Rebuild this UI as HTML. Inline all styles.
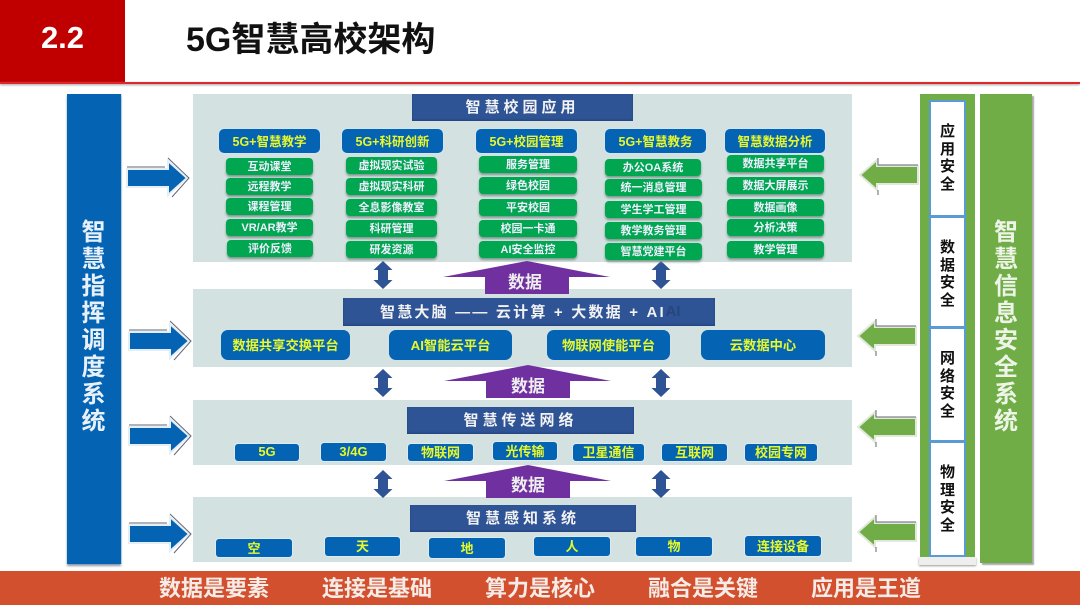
<!DOCTYPE html>
<html lang="zh"><head><meta charset="utf-8"><title>5G智慧高校架构</title>
<style>
html,body{margin:0;padding:0;background:#fff}
#p{position:relative;width:1080px;height:605px;overflow:hidden;background:#fff;font-family:"Liberation Sans","Noto Sans CJK SC",sans-serif;font-weight:700;filter:blur(.35px)}
#p div{position:absolute;box-sizing:border-box;display:flex;align-items:center;justify-content:center;white-space:nowrap}
#p .panel{background:#d3e1e1;left:193px;width:659px}
#p .h{background:#2f5496;color:#f2f2f2;font-size:15px;letter-spacing:4px;padding-bottom:2px;box-shadow:inset 0 -1px 2px #23407a}
#p .c{background:#0563b3;color:#e6f82b;font-size:12.5px;border-radius:5px;box-shadow:0 0 0 1px #cfe6f5;height:24px;width:101px;top:129px;padding-bottom:2px}
#p .g{background:#00a650;color:#eef;font-size:11px;border-radius:4px;height:17px;padding-bottom:2px;box-shadow:0 2px 2px #7f9a8e}
#p .b{background:#0563b3;color:#e6f82b;font-size:13.3px;border-radius:7px;height:30px;top:330px;padding-bottom:2px}
#p .s{background:#0563b3;color:#e6f82b;font-size:13px;border-radius:3px;padding-bottom:2px;box-shadow:0 0 0 1px #dcebf2}
#p .v{display:block;text-align:center;white-space:normal}
#p .sec{background:#fff;border:2px solid #5b9bd5;left:929px;width:37px}
svg{position:absolute;left:0;top:0}
</style></head><body><div id="p">
<div style="left:0;top:0;width:125px;height:82px;background:#c00000;color:#fff;font-size:31px;padding-bottom:7px">2.2</div>
<div style="left:0;top:82px;width:1080px;height:2px;background:#e0262b;box-shadow:0 1px 2px #999"></div>
<div style="left:186px;top:11px;height:50px;color:#111;font-size:34px;justify-content:flex-start">5G智慧高校架构</div>

<div class="panel" style="top:94px;height:168px"></div>
<div class="panel" style="top:289px;height:78px"></div>
<div class="panel" style="top:400px;height:65px"></div>
<div class="panel" style="top:497px;height:65px"></div>

<div style="left:67px;top:94px;width:54px;height:470px;background:#0563b3;box-shadow:0 2px 2px #8a9aa8,1px 0 0 #cfe3f3"></div>
<div class="v" style="left:67px;top:218.5px;width:53px;color:#e8f1fa;font-size:24px;line-height:27px">智<br>慧<br>指<br>挥<br>调<br>度<br>系<br>统</div>

<div style="left:920px;top:94px;width:55px;height:463px;background:#70ad47"></div>
<div style="left:919px;top:557px;width:57px;height:8px;background:#eee;box-shadow:0 1px 2px #999"></div>
<div class="sec" style="top:100px;height:117px"></div>
<div class="sec" style="top:216px;height:112px"></div>
<div class="sec" style="top:327px;height:115px"></div>
<div class="sec" style="top:441px;height:116px"></div>
<div class="v" style="left:929px;top:123px;width:37px;color:#111;font-size:15px;line-height:17.5px">应<br>用<br>安<br>全</div>
<div class="v" style="left:929px;top:239px;width:37px;color:#111;font-size:15px;line-height:17.5px">数<br>据<br>安<br>全</div>
<div class="v" style="left:929px;top:350px;width:37px;color:#111;font-size:15px;line-height:17.5px">网<br>络<br>安<br>全</div>
<div class="v" style="left:929px;top:464px;width:37px;color:#111;font-size:15px;line-height:17.5px">物<br>理<br>安<br>全</div>
<div style="left:980px;top:94px;width:52px;height:469px;background:#70ad47;box-shadow:2px 2px 1px #a9a9a9"></div>
<div class="v" style="left:980px;top:218.5px;width:52px;color:#eef5e8;font-size:24px;line-height:27px">智<br>慧<br>信<br>息<br>安<br>全<br>系<br>统</div>

<svg width="1080" height="605" viewBox="0 0 1080 605">
<defs>
<g id="ra"><path d="M127-9H168V-17L187 0 168 17V9H127Z" fill="#0563b3" stroke="#e4eef5" stroke-width="2"/><path d="M127-11H165M168-20L189 0 172 19" fill="none" stroke="#667" stroke-width="1"/></g>
<g id="ga"><path d="M918-9H877V-15L860 0 877 15V9H918Z" fill="#70ad47" stroke="#e2e8dc" stroke-width="2"/><path d="M878-17V-10H918M878 15V20" fill="none" stroke="#667" stroke-width="1"/></g>
<g id="da"><path d="M0-14L9.5-5H5V5H9.5L0 14-9.5 5H-5V-5H-9.5Z" fill="#2f5496"/></g>
<g id="pu"><path d="M443 16L527 0 610 16H569V33H485V16Z" fill="#7030a0"/></g>
</defs>
<use href="#ra" y="178"/><use href="#ra" x="2" y="341"/><use href="#ra" x="2" y="436"/><use href="#ra" x="2" y="534"/>
<use href="#ga" y="175"/><use href="#ga" x="-2" y="336"/><use href="#ga" x="-2" y="427"/><use href="#ga" x="-2" y="532"/>
<use href="#da" x="383" y="275"/><use href="#da" x="661" y="275"/>
<use href="#da" x="383" y="383"/><use href="#da" x="661" y="383"/>
<use href="#da" x="383" y="484"/><use href="#da" x="661" y="484"/>
<use href="#pu" y="261"/><use href="#pu" x="1" y="365"/><use href="#pu" x="1" y="465"/>
</svg>
<div style="left:483px;top:268px;width:84px;height:24px;color:#eee;font-size:17px">数据</div>
<div style="left:486px;top:372px;width:84px;height:24px;color:#eee;font-size:17px">数据</div>
<div style="left:486px;top:471px;width:84px;height:24px;color:#eee;font-size:17px">数据</div>

<div style="left:664px;top:301px;width:18px;height:20px;color:#27457f;font-size:15px;z-index:2">AI</div>
<div class="h" style="left:412px;top:94px;width:221px;height:27px">智慧校园应用</div>
<div class="h" style="left:343px;top:298px;width:372px;height:28px;letter-spacing:2.2px;justify-content:flex-start;padding-left:37px">智慧大脑 —— 云计算 + 大数据 + AI</div>
<div class="h" style="left:407px;top:407px;width:227px;height:27px">智慧传送网络</div>
<div class="h" style="left:410px;top:505px;width:226px;height:27px">智慧感知系统</div>

<div class="c" style="left:219px">5G+智慧教学</div>
<div class="c" style="left:342px">5G+科研创新</div>
<div class="c" style="left:476px">5G+校园管理</div>
<div class="c" style="left:605px">5G+智慧教务</div>
<div class="c" style="left:725px;width:100px">智慧数据分析</div>

<div class="g" style="left:226px;top:158px;width:87px">互动课堂</div>
<div class="g" style="left:226px;top:178px;width:87px">远程教学</div>
<div class="g" style="left:226px;top:198px;width:87px">课程管理</div>
<div class="g" style="left:226px;top:219px;width:87px">VR/AR教学</div>
<div class="g" style="left:227px;top:240px;width:86px">评价反馈</div>

<div class="g" style="left:346px;top:157px;width:91px">虚拟现实试验</div>
<div class="g" style="left:346px;top:178px;width:91px">虚拟现实科研</div>
<div class="g" style="left:346px;top:199px;width:91px">全息影像教室</div>
<div class="g" style="left:346px;top:220px;width:91px">科研管理</div>
<div class="g" style="left:346px;top:241px;width:91px">研发资源</div>

<div class="g" style="left:479px;top:156px;width:98px">服务管理</div>
<div class="g" style="left:479px;top:177px;width:98px">绿色校园</div>
<div class="g" style="left:479px;top:199px;width:98px">平安校园</div>
<div class="g" style="left:479px;top:220px;width:98px">校园一卡通</div>
<div class="g" style="left:479px;top:241px;width:98px">AI安全监控</div>

<div class="g" style="left:605px;top:159px;width:96px">办公OA系统</div>
<div class="g" style="left:605px;top:179px;width:97px">统一消息管理</div>
<div class="g" style="left:605px;top:201px;width:97px">学生学工管理</div>
<div class="g" style="left:605px;top:222px;width:97px">教学教务管理</div>
<div class="g" style="left:605px;top:243px;width:97px">智慧党建平台</div>

<div class="g" style="left:727px;top:155px;width:97px">数据共享平台</div>
<div class="g" style="left:727px;top:177px;width:97px">数据大屏展示</div>
<div class="g" style="left:727px;top:199px;width:97px">数据画像</div>
<div class="g" style="left:727px;top:219px;width:97px">分析决策</div>
<div class="g" style="left:727px;top:241px;width:97px">教学管理</div>

<div class="b" style="left:221px;width:129px">数据共享交换平台</div>
<div class="b" style="left:389px;width:123px">AI智能云平台</div>
<div class="b" style="left:547px;width:123px">物联网使能平台</div>
<div class="b" style="left:701px;width:124px">云数据中心</div>

<div class="s" style="left:235px;top:444px;width:64px;height:17px">5G</div>
<div class="s" style="left:321px;top:443px;width:65px;height:18px">3/4G</div>
<div class="s" style="left:408px;top:444px;width:65px;height:17px">物联网</div>
<div class="s" style="left:493px;top:442px;width:64px;height:18px">光传输</div>
<div class="s" style="left:573px;top:444px;width:71px;height:17px">卫星通信</div>
<div class="s" style="left:662px;top:444px;width:65px;height:17px">互联网</div>
<div class="s" style="left:745px;top:444px;width:72px;height:17px">校园专网</div>

<div class="s" style="left:216px;top:539px;width:76px;height:18px">空</div>
<div class="s" style="left:325px;top:537px;width:75px;height:19px">天</div>
<div class="s" style="left:429px;top:538px;width:76px;height:20px">地</div>
<div class="s" style="left:534px;top:537px;width:76px;height:19px">人</div>
<div class="s" style="left:636px;top:537px;width:76px;height:19px">物</div>
<div class="s" style="left:745px;top:536px;width:76px;height:20px">连接设备</div>

<div style="left:0;top:571px;width:1080px;height:34px;background:#d2502e"></div>
<div style="left:159px;top:570px;width:110px;height:34px;color:#f5ece8;font-size:22px">数据是要素</div>
<div style="left:322px;top:570px;width:110px;height:34px;color:#f5ece8;font-size:22px">连接是基础</div>
<div style="left:485px;top:570px;width:110px;height:34px;color:#f5ece8;font-size:22px">算力是核心</div>
<div style="left:648px;top:570px;width:110px;height:34px;color:#f5ece8;font-size:22px">融合是关键</div>
<div style="left:811px;top:570px;width:110px;height:34px;color:#f5ece8;font-size:22px">应用是王道</div>
</div></body></html>
